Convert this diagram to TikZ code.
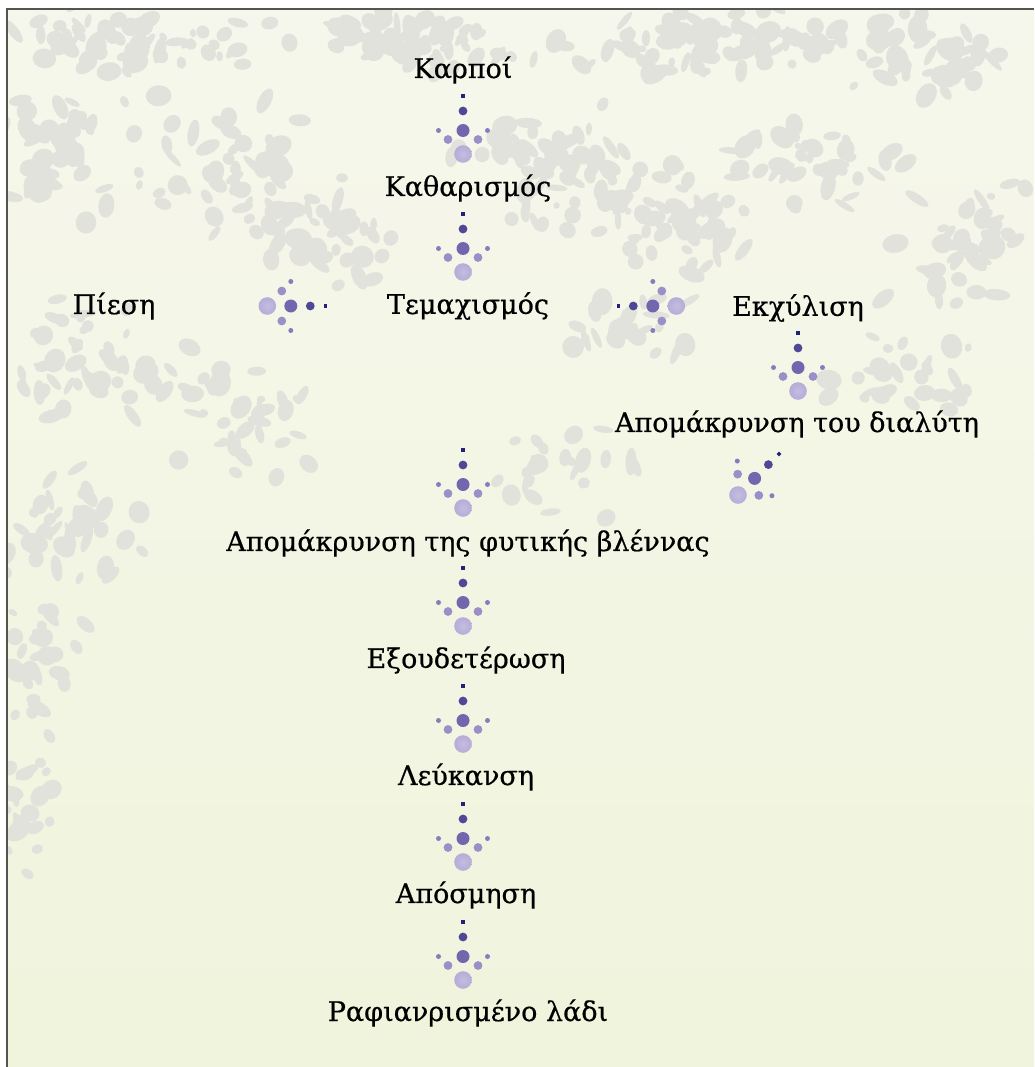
\documentclass[tikz,border=0pt]{standalone}
\usepackage{fontspec}
\newfontfamily\lblfont{DejaVu Serif}[FakeBold=0.6]
\usetikzlibrary{calc}
\definecolor{bgtop}{HTML}{F6F7EC}
\definecolor{bgbot}{HTML}{F0F4DC}
\definecolor{grunge}{HTML}{E2E2DC}
\definecolor{frame}{HTML}{555550}
\definecolor{dA}{HTML}{22227A}
\definecolor{dB}{HTML}{4E4896}
\definecolor{dC}{HTML}{7466AE}
\definecolor{dD}{HTML}{8A7CBC}
\definecolor{dE}{HTML}{9C8FC8}
\definecolor{dF}{HTML}{B6ACD8}
\tikzset{
  lbl/.style={inner sep=0pt, font=\lblfont\fontsize{27}{30}\selectfont, text=black},
  dotarrow/.pic={
    \fill[dA] (-1.7,-1.7) rectangle (1.7,1.7);
    \fill[dB] (15,0) circle (4.4);
    \fill[dC] (34.5,0) circle (6.5);
    \fill[dD] (34.5,24.5) circle (2.5);
    \fill[dD] (34.5,-24.5) circle (2.5);
    \fill[dE] (43.5,15) circle (4.4);
    \fill[dE] (43.5,-15) circle (4.4);
    \shade[inner color=dF!80, outer color=dF] (58,0) circle (8.8);
  }
}
\begin{document}
\begin{tikzpicture}[x=1pt,y=1pt]
\useasboundingbox (0,0) rectangle (1034,-1067);
\fill[white] (0,0) rectangle (1034,-1067);
\fill[top color=bgtop, bottom color=bgbot] (7,-9) rectangle (1034,-1067);
% grunge texture (clusters of blotches)
\pgfmathsetseed{11}
\begin{scope}
\clip (7,-9) rectangle (1034,-1067);
\foreach \cx/\cy/\sx/\sy/\n in {
  150/-40/140/25/60, 420/-40/120/30/60, 700/-45/150/30/70, 930/-60/100/40/50,
  60/-160/50/60/45, 230/-170/80/60/50, 330/-230/70/50/40,
  560/-170/90/50/60, 680/-220/90/50/60, 820/-160/70/40/40, 960/-230/70/70/40,
  100/-360/90/60/50, 250/-420/70/50/35, 80/-520/60/60/35, 40/-650/40/80/30,
  620/-330/60/30/25, 900/-380/80/40/30, 560/-470/60/40/25, 30/-800/30/60/20}{
  \foreach \i in {1,...,\n}{
    \pgfmathsetmacro{\gx}{\cx+(rnd+rnd+rnd-1.5)*\sx}
    \pgfmathsetmacro{\gy}{\cy+(rnd+rnd+rnd-1.5)*\sy}
    \pgfmathsetmacro{\ga}{3+rnd*11}
    \pgfmathsetmacro{\gb}{3+rnd*8}
    \pgfmathsetmacro{\gr}{rnd*180}
    \fill[grunge, rotate around={\gr:(\gx,\gy)}] (\gx,\gy) ellipse ({\ga} and {\gb});
  }
}
\end{scope}
\draw[frame, line width=1.2pt] (7,-1067) -- (7,-9) -- (1034,-9);
% labels
\node[lbl] (karpoi) at (463,-70) {Καρποί};
\node[lbl] (kathar) at (468,-188) {Καθαρισμός};
\node[lbl] (piesi) at (114,-306) {Πίεση};
\node[lbl] (temach) at (468,-306) {Τεμαχισμός};
\node[lbl] (ekchyl) at (798,-308) {Εκχύλιση};
\node[lbl] (dialyt) at (797,-424) {Απομάκρυνση του διαλύτη};
\node[lbl] (vlenna) at (468,-543) {Απομάκρυνση της φυτικής βλέννας};
\node[lbl] (exoud) at (466,-660) {Εξουδετέρωση};
\node[lbl] (leuk) at (466,-777) {Λεύκανση};
\node[lbl] (aposm) at (466,-895) {Απόσμηση};
\node[lbl] (rafin) at (468,-1013) {Ραφιανρισμένο λάδι};
% dot arrows
\pic[rotate=-90] at (463,-96) {dotarrow};
\pic[rotate=-90] at (463,-214) {dotarrow};
\pic[rotate=180] at (325.3,-306) {dotarrow};
\pic at (618.3,-306) {dotarrow};
\pic[rotate=-90] at (798,-333) {dotarrow};
\pic[rotate=225] at (779,-454) {dotarrow};
\pic[rotate=-90] at (463,-450) {dotarrow};
\pic[rotate=-90] at (463,-568) {dotarrow};
\pic[rotate=-90] at (463,-686) {dotarrow};
\pic[rotate=-90] at (463,-804) {dotarrow};
\pic[rotate=-90] at (463,-922) {dotarrow};
\end{tikzpicture}
\end{document}
